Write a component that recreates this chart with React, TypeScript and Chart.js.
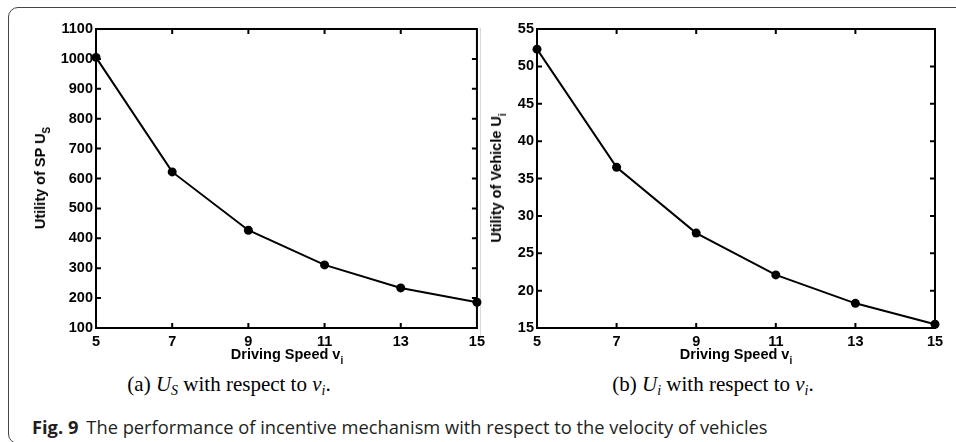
import React, { useEffect, useRef } from "react";
import { Chart, registerables } from "chart.js";

Chart.register(...registerables);

const speeds = [5, 7, 9, 11, 13, 15];
const utilitySP = [1005, 622, 427, 311, 234, 186];
const utilityVehicle = [52.3, 36.5, 27.7, 22.1, 18.3, 15.5];
const xTicks = { min: 5, max: 15, step: 2 };
const spTicks = { min: 100, max: 1100, step: 100 };
const vehTicks = { min: 15, max: 55, step: 5 };

const tickFont = { family: "'Liberation Sans', Arial, sans-serif", size: 14.5, weight: "bold" as const };

const boxPlugin = {
  id: "matlabBox",
  afterDraw(chart: any) {
    const { ctx, chartArea } = chart;
    const { left, right, top, bottom } = chartArea;
    const xs = chart.scales.x;
    const ys = chart.scales.y;
    ctx.save();
    ctx.strokeStyle = "#000";
    ctx.lineWidth = 2;
    ctx.strokeRect(left, top, right - left, bottom - top);
    const len = 5;
    ctx.beginPath();
    xs.ticks.forEach((t: any) => {
      const px = xs.getPixelForValue(t.value);
      if (Math.abs(px - left) < 1 || Math.abs(px - right) < 1) return;
      ctx.moveTo(px, bottom);
      ctx.lineTo(px, bottom - len);
      ctx.moveTo(px, top);
      ctx.lineTo(px, top + len);
    });
    ys.ticks.forEach((t: any) => {
      const py = ys.getPixelForValue(t.value);
      if (Math.abs(py - top) < 1 || Math.abs(py - bottom) < 1) return;
      ctx.moveTo(left, py);
      ctx.lineTo(left + len, py);
      ctx.moveTo(right, py);
      ctx.lineTo(right - len, py);
    });
    ctx.stroke();
    ctx.restore();
  },
};

function makeChart(
  canvas: HTMLCanvasElement,
  values: number[],
  yr: { min: number; max: number; step: number },
  yWidth: number,
  padTop: number,
  padRight: number,
  xHeight: number
) {
  return new Chart(canvas, {
    type: "line",
    data: {
      datasets: [
        {
          data: speeds.map((s, i) => ({ x: s, y: values[i] })),
          borderColor: "#000",
          backgroundColor: "#000",
          borderWidth: 2,
          pointRadius: 4.5,
          pointBackgroundColor: "#000",
          pointBorderColor: "#000",
          pointBorderWidth: 0,
          tension: 0,
          clip: false as any,
        },
      ],
    },
    options: {
      animation: false,
      responsive: false,
      maintainAspectRatio: false,
      layout: { padding: { top: padTop, right: padRight, left: 0, bottom: 0 } },
      plugins: { legend: { display: false }, tooltip: { enabled: false } },
      scales: {
        x: {
          type: "linear",
          min: xTicks.min,
          max: xTicks.max,
          ticks: {
            stepSize: xTicks.step,
            font: tickFont,
            color: "#000",
            padding: 5,
            maxRotation: 0,
            callback: (v: any) => String(v),
          },
          grid: { display: false, drawTicks: false },
          border: { display: false },
          afterFit: (s: any) => {
            s.height = xHeight;
          },
        },
        y: {
          type: "linear",
          min: yr.min,
          max: yr.max,
          ticks: { stepSize: yr.step, font: tickFont, color: "#000", padding: 3, callback: (v: any) => String(v) },
          grid: { display: false, drawTicks: false },
          border: { display: false },
          afterFit: (s: any) => {
            s.width = yWidth;
          },
        },
      },
    },
    plugins: [boxPlugin],
  });
}

const sansBold = "'Liberation Sans', Arial, sans-serif";
const serif = "'Liberation Serif', 'Times New Roman', serif";

export default function App() {
  const leftRef = useRef<HTMLCanvasElement>(null);
  const rightRef = useRef<HTMLCanvasElement>(null);

  useEffect(() => {
    const c1 = makeChart(leftRef.current!, utilitySP, spTicks, 76, 19, 13, 20);
    const c2 = makeChart(rightRef.current!, utilityVehicle, vehTicks, 37, 19, 21, 20);
    return () => {
      c1.destroy();
      c2.destroy();
    };
  }, []);

  const axisTitle: React.CSSProperties = {
    position: "absolute",
    fontFamily: sansBold,
    fontWeight: "bold",
    fontSize: 14.5,
    color: "#000",
    whiteSpace: "nowrap",
    lineHeight: "16px",
  };
  const sub: React.CSSProperties = { fontSize: 10, position: "relative", top: 5 };
  const caption: React.CSSProperties = {
    position: "absolute",
    fontFamily: serif,
    fontSize: 21,
    color: "#000",
    whiteSpace: "nowrap",
    transform: "translate(-50%, -50%)",
    lineHeight: "24px",
  };
  const msub: React.CSSProperties = { fontSize: 14, fontStyle: "italic", position: "relative", top: 4 };

  return (
    <div style={{ position: "absolute", left: 0, top: 0, width: 956, height: 442, overflow: "hidden", background: "#fff" }}>
      <div
        style={{
          position: "absolute",
          left: 8,
          top: 7,
          width: 980,
          height: 437,
          border: "1px solid #444",
          borderRadius: 10,
          boxSizing: "border-box",
        }}
      />
      <div style={{ position: "absolute", left: 480, top: 28, width: 1, height: 310, background: "#d8d8d8" }} />
      <canvas ref={leftRef} width={470} height={338} style={{ position: "absolute", left: 20, top: 10, width: 470, height: 338 }} />
      <canvas ref={rightRef} width={456} height={338} style={{ position: "absolute", left: 500, top: 10, width: 456, height: 338 }} />

      <div style={{ ...axisTitle, left: 287, top: 355, transform: "translate(-50%, -50%)" }}>
        Driving Speed v<span style={sub}>i</span>
      </div>
      <div style={{ ...axisTitle, left: 736, top: 355, transform: "translate(-50%, -50%)" }}>
        Driving Speed v<span style={sub}>i</span>
      </div>
      <div style={{ ...axisTitle, left: 41, top: 178, transform: "translate(-50%, -50%) rotate(-90deg)" }}>
        Utility of SP U<span style={sub}>S</span>
      </div>
      <div style={{ ...axisTitle, left: 497, top: 178, transform: "translate(-50%, -50%) rotate(-90deg)" }}>
        Utility of Vehicle U<span style={sub}>i</span>
      </div>

      <div style={{ ...caption, left: 229, top: 385 }}>
        (a) <i>U</i>
        <span style={msub}>S</span> with respect to <i>v</i>
        <span style={msub}>i</span>.
      </div>
      <div style={{ ...caption, left: 713, top: 385 }}>
        (b) <i>U</i>
        <span style={msub}>i</span> with respect to <i>v</i>
        <span style={msub}>i</span>.
      </div>

      <div
        style={{
          position: "absolute",
          left: 32,
          top: 427,
          transform: "translateY(-50%)",
          fontFamily: "'Open Sans', 'Noto Sans', sans-serif",
          fontSize: 18.3,
          color: "#231f20",
          whiteSpace: "nowrap",
          lineHeight: "22px",
        }}
      >
        <b>Fig. 9</b>
        <span style={{ marginLeft: 8 }}>The performance of incentive mechanism with respect to the velocity of vehicles</span>
      </div>
    </div>
  );
}
